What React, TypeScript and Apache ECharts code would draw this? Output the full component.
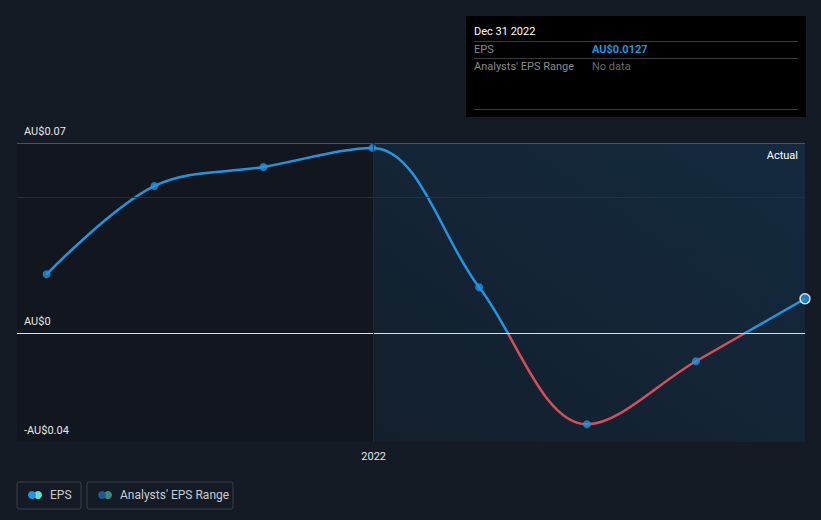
import React, { useEffect, useRef } from "react";
import * as echarts from "echarts";

const dates = ["2021-03-31", "2021-06-30", "2021-09-30", "2021-12-31", "2022-03-31", "2022-06-30", "2022-09-30", "2022-12-31"];
const eps = [0.0217, 0.0542, 0.0612, 0.0682, 0.0169, -0.0335, -0.0103, 0.0127];
const yTickLabels: Record<number, string> = { 7: "AU$0.07", 0: "AU$0", [-4]: "-AU$0.04" };
const xMin = "2021-03-06";
const xMax = "2022-12-31";
const forecastStart = "2022-01-01";
const xTickLabel = "2022";

const ts = (d: string) => new Date(d + "T00:00:00Z").getTime();

const BLUE = "#2394df";
const RED = "#d44f5a";

export default function App() {
  const ref = useRef<HTMLDivElement>(null);
  useEffect(() => {
    document.body.style.margin = "0";
    const chart = echarts.init(ref.current!, undefined, { renderer: "svg" });
    const pts = dates.map((d, i) => [ts(d), eps[i]]);
    const font = "Roboto, 'Noto Sans', sans-serif";
    const splitColors = [
      "transparent", "transparent", "transparent", "transparent",
      "#d9dde2", "transparent", "transparent", "transparent", "transparent",
      "#262e39", "transparent", "#4a5059",
    ];
    chart.setOption({
      animation: false,
      backgroundColor: "#151b24",
      textStyle: { fontFamily: font },
      grid: { left: 17, right: 16, top: 143, bottom: 78 },
      xAxis: {
        type: "value",
        min: ts(xMin),
        max: ts(xMax),
        axisLine: { show: true, lineStyle: { color: "#4a5059", width: 1 } },
        axisTick: { show: false },
        axisLabel: { show: false },
        splitLine: { show: false },
      },
      yAxis: {
        type: "value",
        min: -0.04,
        max: 0.07,
        interval: 0.01,
        axisLine: { show: false },
        axisTick: { show: false },
        axisLabel: {
          inside: true,
          verticalAlign: "bottom",
          margin: 7,
          padding: [0, 0, 6, 0],
          color: "#e6e6e6",
          fontSize: 11,
          formatter: (v: number) => yTickLabels[Math.round(v * 100)] ?? "",
        },
        splitLine: { show: true, lineStyle: { color: splitColors, width: 1 } },
        z: 5,
      },
      series: [
        {
          type: "line",
          data: pts,
          smooth: 0.35,
          showSymbol: false,
          lineStyle: { width: 2.5, color: BLUE },
          markArea: {
            silent: true,
            data: [
              [
                { xAxis: ts(xMin), itemStyle: { color: "#12171f" } },
                { xAxis: ts(forecastStart) },
              ],
              [
                {
                  xAxis: ts(forecastStart),
                  name: "Actual",
                  itemStyle: {
                    color: {
                      type: "linear", x: 0, y: 1, x2: 1, y2: 0,
                      colorStops: [
                        { offset: 0, color: "#131f2c" },
                        { offset: 1, color: "#142a3f" },
                      ],
                    },
                  },
                  label: {
                    show: true,
                    position: "insideTopRight",
                    color: "#ffffff",
                    fontSize: 11,
                    distance: 7,
                  },
                },
                { xAxis: ts(xMax) },
              ],
            ],
          },
          markLine: {
            silent: true,
            symbol: "none",
            lineStyle: { color: "#1d2835", width: 1, type: "solid" },
            label: {
              show: true,
              position: "start",
              formatter: xTickLabel,
              color: "#e6e6e6",
              fontSize: 11,
              distance: 9,
            },
            data: [{ xAxis: ts(forecastStart) }],
          },
          z: 3,
        },
        {
          type: "scatter",
          data: pts.map((p, i) =>
            i === pts.length - 1
              ? { value: p, symbolSize: 10, itemStyle: { color: BLUE, borderColor: "#ffffff", borderWidth: 1.5 } }
              : { value: p }
          ),
          symbolSize: 8,
          itemStyle: { color: BLUE },
          clip: true,
          z: 4,
        },
      ],
      graphic: [
        { type: "rect", shape: { x: 466, y: 16, width: 340, height: 101 }, style: { fill: "#000000" } },
        { type: "text", x: 474, y: 26, style: { text: "Dec 31 2022", fill: "#ffffff", fontSize: 11, fontFamily: font } },
        { type: "line", shape: { x1: 474, y1: 41.5, x2: 798, y2: 41.5 }, style: { stroke: "#3a3a3a", lineWidth: 1 } },
        { type: "text", x: 474, y: 44, style: { text: "EPS", fill: "#8a8a8a", fontSize: 11, fontFamily: font } },
        { type: "text", x: 592, y: 44, style: { text: "AU$0.0127", fill: BLUE, fontSize: 11, fontWeight: "bold", fontFamily: font } },
        { type: "line", shape: { x1: 474, y1: 58.5, x2: 798, y2: 58.5 }, style: { stroke: "#3a3a3a", lineWidth: 1 } },
        { type: "text", x: 474, y: 61, style: { text: "Analysts' EPS Range", fill: "#8a8a8a", fontSize: 11, fontFamily: font } },
        { type: "text", x: 592, y: 61, style: { text: "No data", fill: "#6a6a6a", fontSize: 11, fontFamily: font } },
        { type: "line", shape: { x1: 474, y1: 109.5, x2: 798, y2: 109.5 }, style: { stroke: "#3a3a3a", lineWidth: 1 } },
        { type: "rect", shape: { x: 17, y: 482, width: 64, height: 27, r: 2 }, style: { fill: "none", stroke: "#3a404a", lineWidth: 1 } },
        { type: "circle", shape: { cx: 38, cy: 495, r: 4 }, style: { fill: "#5fe0d6" } },
        { type: "circle", shape: { cx: 32, cy: 495, r: 4 }, style: { fill: BLUE } },
        { type: "text", x: 50, y: 489, style: { text: "EPS", fill: "#c8ccd2", fontSize: 12, fontFamily: font } },
        { type: "rect", shape: { x: 87, y: 482, width: 146, height: 27, r: 2 }, style: { fill: "none", stroke: "#3a404a", lineWidth: 1 } },
        { type: "circle", shape: { cx: 108, cy: 495, r: 4 }, style: { fill: "#3a8783" } },
        { type: "circle", shape: { cx: 102, cy: 495, r: 4 }, style: { fill: "#1f5a8a" } },
        { type: "text", x: 120, y: 489, style: { text: "Analysts' EPS Range", fill: "#c8ccd2", fontSize: 12, fontFamily: font } },
      ],
    });
    const zeroY = chart.convertToPixel({ gridIndex: 0 }, [ts(xMin), 0])[1];
    const h = chart.getHeight();
    const o = zeroY / h;
    chart.setOption({
      series: [
        {
          lineStyle: {
            color: {
              type: "linear", x: 0, y: 0, x2: 0, y2: h, global: true,
              colorStops: [
                { offset: 0, color: BLUE },
                { offset: o, color: BLUE },
                { offset: o, color: RED },
                { offset: 1, color: RED },
              ],
            },
          },
        },
      ],
    });
    return () => chart.dispose();
  }, []);
  return <div ref={ref} style={{ position: "absolute", left: 0, top: 0, width: 821, height: 520 }} />;
}
